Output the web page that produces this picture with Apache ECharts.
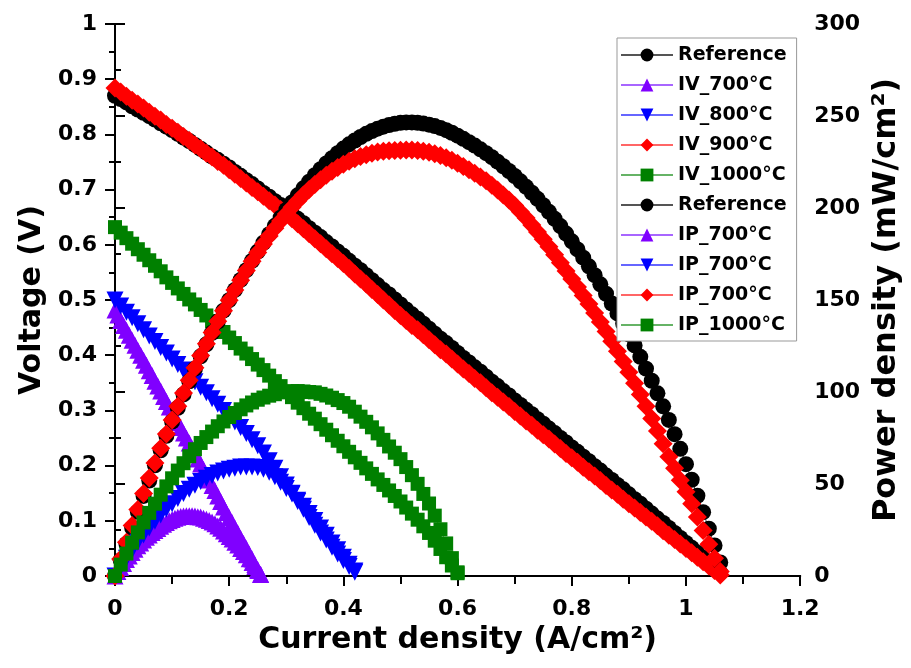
<!DOCTYPE html>
<html>
<head>
<meta charset="utf-8">
<script src="https://cdn.jsdelivr.net/npm/echarts@6/dist/echarts.min.js"></script>
<style>
html, body { margin: 0; padding: 0; background: #fff; }
#main { width: 911px; height: 668px; }
</style>
</head>
<body>
<div id="main"></div>
<script>
// current density (A/cm2)
var current = [
    0, 0.01, 0.02, 0.03, 0.04, 0.05, 0.06, 0.07, 0.08, 0.09,
    0.10, 0.11, 0.12, 0.13, 0.14, 0.15, 0.16, 0.17, 0.18, 0.19,
    0.20, 0.21, 0.22, 0.23, 0.24, 0.25, 0.26, 0.27, 0.28, 0.29,
    0.30, 0.31, 0.32, 0.33, 0.34, 0.35, 0.36, 0.37, 0.38, 0.39,
    0.40, 0.41, 0.42, 0.43, 0.44, 0.45, 0.46, 0.47, 0.48, 0.49,
    0.50, 0.51, 0.52, 0.53, 0.54, 0.55, 0.56, 0.57, 0.58, 0.59,
    0.60, 0.61, 0.62, 0.63, 0.64, 0.65, 0.66, 0.67, 0.68, 0.69,
    0.70, 0.71, 0.72, 0.73, 0.74, 0.75, 0.76, 0.77, 0.78, 0.79,
    0.80, 0.81, 0.82, 0.83, 0.84, 0.85, 0.86, 0.87, 0.88, 0.89,
    0.90, 0.91, 0.92, 0.93, 0.94, 0.95, 0.96, 0.97, 0.98, 0.99,
    1.00, 1.01, 1.02, 1.03, 1.04, 1.05, 1.06
];
// finer steps for the 700°C cell
var current700 = [
    0, 0.005, 0.010, 0.015, 0.020, 0.025, 0.030, 0.035, 0.040, 0.045,
    0.050, 0.055, 0.060, 0.065, 0.070, 0.075, 0.080, 0.085, 0.090, 0.095,
    0.100, 0.105, 0.110, 0.115, 0.120, 0.125, 0.130, 0.135, 0.140, 0.145,
    0.150, 0.155, 0.160, 0.165, 0.170, 0.175, 0.180, 0.185, 0.190, 0.195,
    0.200, 0.205, 0.210, 0.215, 0.220, 0.225, 0.230, 0.235, 0.240, 0.245,
    0.250, 0.255
];

// voltage (V)
var vRef = [
    0.870, 0.864, 0.858, 0.851, 0.845, 0.839, 0.833, 0.827, 0.820, 0.814,
    0.808, 0.801, 0.794, 0.788, 0.781, 0.774, 0.767, 0.760, 0.754, 0.747,
    0.740, 0.732, 0.725, 0.717, 0.710, 0.702, 0.694, 0.687, 0.679, 0.672,
    0.664, 0.656, 0.647, 0.639, 0.630, 0.622, 0.614, 0.605, 0.597, 0.588,
    0.580, 0.571, 0.562, 0.554, 0.545, 0.536, 0.527, 0.518, 0.510, 0.501,
    0.492, 0.483, 0.474, 0.466, 0.457, 0.448, 0.439, 0.430, 0.422, 0.413,
    0.404, 0.395, 0.387, 0.378, 0.370, 0.361, 0.352, 0.344, 0.335, 0.327,
    0.318, 0.310, 0.301, 0.293, 0.284, 0.276, 0.267, 0.259, 0.250, 0.242,
    0.233, 0.225, 0.216, 0.208, 0.199, 0.191, 0.182, 0.174, 0.165, 0.157,
    0.148, 0.139, 0.131, 0.122, 0.113, 0.104, 0.096, 0.087, 0.078, 0.069,
    0.060, 0.051, 0.042, 0.033, 0.024, 0.015, 0.006
];
var v700 = [
    0.482, 0.473, 0.463, 0.454, 0.445, 0.436, 0.427, 0.418, 0.409, 0.400,
    0.391, 0.382, 0.372, 0.363, 0.353, 0.344, 0.335, 0.325, 0.316, 0.306,
    0.297, 0.288, 0.278, 0.269, 0.259, 0.250, 0.241, 0.231, 0.222, 0.212,
    0.203, 0.193, 0.183, 0.174, 0.164, 0.155, 0.145, 0.135, 0.125, 0.115,
    0.106, 0.097, 0.087, 0.078, 0.068, 0.059, 0.050, 0.040, 0.031, 0.021,
    0.012, 0.003
];
var v800 = [
    0.500, 0.489, 0.478, 0.468, 0.457, 0.446, 0.435, 0.425, 0.414, 0.404,
    0.393, 0.383, 0.373, 0.362, 0.352, 0.342, 0.332, 0.321, 0.311, 0.300,
    0.290, 0.279, 0.269, 0.258, 0.247, 0.236, 0.223, 0.209, 0.195, 0.180,
    0.165, 0.150, 0.135, 0.121, 0.106, 0.092, 0.078, 0.065, 0.052, 0.040,
    0.028, 0.017, 0.007
];
var v900 = [
    0.884, 0.877, 0.869, 0.862, 0.855, 0.848, 0.840, 0.833, 0.826, 0.818,
    0.811, 0.804, 0.796, 0.789, 0.781, 0.774, 0.766, 0.759, 0.751, 0.744,
    0.736, 0.728, 0.720, 0.712, 0.704, 0.696, 0.688, 0.680, 0.672, 0.664,
    0.656, 0.647, 0.638, 0.629, 0.620, 0.611, 0.602, 0.593, 0.584, 0.575,
    0.566, 0.557, 0.547, 0.538, 0.529, 0.519, 0.510, 0.500, 0.491, 0.481,
    0.472, 0.463, 0.454, 0.446, 0.437, 0.428, 0.419, 0.410, 0.402, 0.393,
    0.384, 0.375, 0.367, 0.358, 0.350, 0.341, 0.332, 0.324, 0.315, 0.307,
    0.298, 0.290, 0.281, 0.273, 0.264, 0.256, 0.248, 0.239, 0.231, 0.222,
    0.214, 0.206, 0.197, 0.189, 0.181, 0.173, 0.164, 0.156, 0.148, 0.139,
    0.131, 0.123, 0.115, 0.107, 0.099, 0.091, 0.082, 0.074, 0.066, 0.058,
    0.050, 0.042, 0.034, 0.026, 0.018, 0.010, 0.002
];
var v1000 = [
    0.632, 0.622, 0.612, 0.602, 0.592, 0.582, 0.572, 0.562, 0.552, 0.541,
    0.531, 0.521, 0.511, 0.501, 0.492, 0.482, 0.472, 0.462, 0.452, 0.442,
    0.432, 0.422, 0.412, 0.403, 0.393, 0.383, 0.373, 0.363, 0.353, 0.344,
    0.334, 0.324, 0.314, 0.304, 0.294, 0.285, 0.275, 0.265, 0.255, 0.245,
    0.235, 0.225, 0.215, 0.205, 0.195, 0.185, 0.175, 0.165, 0.155, 0.145,
    0.135, 0.124, 0.113, 0.102, 0.090, 0.078, 0.064, 0.049, 0.034, 0.019,
    0.005
];

// power density (mW/cm2)
var pRef = [
    0, 8.6, 17.4, 26.2, 34.9, 43.5, 51.9, 60.2, 68.3, 76.2,
    83.9, 91.4, 98.7, 105.8, 112.7, 119.4, 125.9, 132.2, 138.3, 144.2,
    149.9, 155.5, 160.9, 166.2, 171.3, 176.3, 181.1, 185.8, 190.3, 194.7,
    198.9, 203.0, 206.9, 210.7, 214.3, 217.8, 221.1, 224.2, 227.1, 229.8,
    232.3, 234.6, 236.7, 238.6, 240.3, 241.8, 243.1, 244.2, 245.1, 245.8,
    246.3, 246.5, 246.5, 246.3, 245.9, 245.3, 244.5, 243.5, 242.3, 240.9,
    239.3, 237.6, 235.8, 233.9, 231.9, 229.8, 227.6, 225.2, 222.7, 220.1,
    217.4, 214.5, 211.5, 208.3, 205.0, 201.5, 197.9, 194.1, 190.2, 186.1,
    181.9, 177.5, 173.0, 168.3, 163.5, 158.5, 153.4, 148.1, 142.7, 137.1,
    131.3, 125.3, 119.1, 112.7, 106.1, 99.3, 92.2, 84.8, 77.1, 69.1,
    60.8, 52.3, 43.6, 34.7, 25.7, 16.6, 7.4
];
var p700 = [
    0, 2.4, 4.6, 6.8, 8.9, 10.9, 12.8, 14.6, 16.4, 18.0,
    19.6, 21.0, 22.3, 23.6, 24.7, 25.8, 27.1, 28.1, 29.1, 30.0,
    30.7, 31.4, 31.9, 32.3, 32.6, 32.8, 32.8, 32.7, 32.6, 32.2,
    32.0, 31.4, 30.8, 30.2, 29.3, 28.4, 27.2, 25.9, 24.5, 22.9,
    21.5, 20.1, 18.3, 16.8, 15.0, 13.3, 11.5, 9.4, 7.4, 5.1,
    3.0, 0.8
];
var p800 = [
    0, 4.9, 9.6, 14.0, 18.3, 22.3, 26.1, 29.8, 33.1, 36.4,
    39.3, 42.1, 44.8, 47.1, 49.3, 51.3, 53.1, 54.6, 56.0, 57.0,
    58.0, 58.6, 59.2, 59.3, 59.3, 59.0, 58.0, 56.4, 54.0, 51.0,
    47.5, 44.5, 41.2, 37.9, 34.0, 30.2, 26.1, 22.1, 18.0, 14.2,
    10.2, 6.4, 2.7
];
var p900 = [
    0, 9.3, 18.4, 27.4, 36.2, 44.8, 53.2, 61.4, 69.4, 77.2,
    84.8, 92.2, 99.4, 106.4, 113.2, 119.8, 126.2, 132.4, 138.4, 144.2,
    149.8, 155.4, 160.8, 166.0, 171.0, 175.8, 180.4, 184.8, 189.0, 193.0,
    196.8, 200.4, 203.8, 207.0, 210.0, 212.8, 215.4, 217.8, 220.0, 222.0,
    223.8, 225.4, 226.8, 228.0, 229.0, 229.8, 230.4, 230.8, 231.1, 231.3,
    231.4, 231.5, 231.5, 231.3, 230.9, 230.3, 229.5, 228.5, 227.3, 225.9,
    224.3, 222.6, 220.8, 218.9, 216.9, 214.8, 212.4, 209.8, 207.1, 204.3,
    201.4, 198.0, 194.5, 190.8, 187.0, 183.0, 178.9, 174.6, 170.2, 165.8,
    161.4, 157.0, 152.5, 147.8, 143.0, 138.0, 132.9, 127.6, 122.2, 116.6,
    110.8, 104.8, 98.6, 92.2, 85.6, 78.8, 71.9, 64.8, 58.6, 52.1,
    45.8, 39.3, 32.1, 24.7, 17.2, 9.6, 2.4
];
var p1000 = [
    0, 6.2, 12.2, 18.1, 23.7, 29.1, 34.3, 39.3, 44.2, 48.7,
    53.1, 57.3, 61.3, 65.1, 68.9, 72.3, 75.5, 78.5, 81.4, 84.0,
    86.4, 88.6, 90.6, 92.7, 94.3, 95.8, 97.0, 98.0, 98.8, 99.8,
    100.2, 100.4, 100.5, 100.3, 100.0, 99.8, 99.0, 98.1, 96.9, 95.6,
    94.0, 92.0, 89.3, 86.6, 83.8, 80.8, 77.5, 74.0, 70.4, 67.0,
    63.5, 59.2, 54.8, 50.1, 44.6, 39.4, 32.8, 25.4, 17.7, 9.7,
    2.0
];

// legend labels (the original repeats some names, \u200b keeps them apart)
var names = ['Reference', 'IV_700°C', 'IV_800°C', 'IV_900°C', 'IV_1000°C',
    'Reference\u200b', 'IP_700°C', 'IP_700°C\u200b', 'IP_700°C\u200b\u200b', 'IP_1000°C'];

var font = 'DejaVu Sans';

function pts(xs, ys) {
    return ys.map(function (y, i) { return [xs[i], y]; });
}

function curve(name, symbol, size, rotate, color, lineColor, yIndex, xs, ys) {
    return {
        name: name,
        type: 'line',
        xAxisIndex: 0,
        yAxisIndex: yIndex,
        data: pts(xs, ys),
        symbol: symbol,
        symbolSize: size,
        symbolRotate: rotate,
        showSymbol: true,
        itemStyle: {color: color},
        lineStyle: {color: lineColor, width: 1},
        emphasis: {disabled: true},
        animation: false
    };
}

var myChart = echarts.init(document.getElementById('main'));

myChart.setOption({
    animation: false,
    grid: {left: 115, right: 110, top: 24, bottom: 92},
    legend: {
        orient: 'vertical',
        left: 617,
        top: 38,
        itemWidth: 52,
        itemHeight: 16,
        itemGap: 8,
        padding: [6, 10, 5, 3],
        borderColor: '#999',
        borderWidth: 1,
        backgroundColor: '#fff',
        textStyle: {fontFamily: font, fontWeight: 'bold', fontSize: 19, color: '#000', lineHeight: 22},
        formatter: function (n) { return n.replace(/\u200b/g, ''); },
        data: names
    },
    xAxis: [
        {
            type: 'value', position: 'bottom',
            min: 0, max: 1.2, interval: 0.2,
            name: 'Current density (A/cm²)',
            nameLocation: 'middle', nameGap: 49,
            nameTextStyle: {fontFamily: font, fontWeight: 'bold', fontSize: 30, color: '#000'},
            axisLine: {lineStyle: {color: '#000', width: 2}},
            axisTick: {inside: false, length: 10, lineStyle: {width: 2}},
            minorTick: {show: true, splitNumber: 2, length: 6, lineStyle: {color: '#000', width: 2}},
            axisLabel: {fontFamily: font, fontWeight: 'bold', fontSize: 22, color: '#000', margin: 22},
            splitLine: {show: false}
        },
        {
            type: 'value', position: 'top',
            min: 0, max: 1.2, interval: 0.1,
            axisLine: {lineStyle: {color: '#000', width: 2}},
            axisTick: {inside: true, length: 8, lineStyle: {width: 2}},
            axisLabel: {show: false},
            splitLine: {show: false}
        }
    ],
    yAxis: [
        {
            type: 'value', position: 'left',
            min: 0, max: 1, interval: 0.1,
            name: 'Voltage (V)',
            nameLocation: 'middle', nameGap: 64,
            nameTextStyle: {fontFamily: font, fontWeight: 'bold', fontSize: 30, color: '#000'},
            axisLine: {show: true, lineStyle: {color: '#000', width: 2}},
            axisTick: {show: true, inside: false, length: 10, lineStyle: {width: 2}},
            minorTick: {show: true, splitNumber: 2, length: 6, lineStyle: {color: '#000', width: 2}},
            axisLabel: {fontFamily: font, fontWeight: 'bold', fontSize: 22, color: '#000', margin: 18},
            splitLine: {show: false}
        },
        {
            type: 'value', position: 'right',
            min: 0, max: 300, interval: 50,
            name: 'Power density (mW/cm²)',
            nameLocation: 'middle', nameGap: 42, nameRotate: 90,
            nameTextStyle: {fontFamily: font, fontWeight: 'bold', fontSize: 32, color: '#000'},
            axisLine: {show: true, lineStyle: {color: '#000', width: 2}},
            axisTick: {show: true, inside: false, length: 10, lineStyle: {width: 2}},
            minorTick: {show: true, splitNumber: 2, length: 6, lineStyle: {color: '#000', width: 2}},
            axisLabel: {fontFamily: font, fontWeight: 'bold', fontSize: 22, color: '#000', margin: 14},
            splitLine: {show: false}
        }
    ],
    series: [
        curve(names[0], 'circle', 16, 0, '#000000', '#555555', 0, current, vRef),
        curve(names[1], 'triangle', 17, 0, '#8000ff', '#a866ff', 0, current700, v700),
        curve(names[2], 'triangle', 17, 180, '#0000ff', '#6666ff', 0, current, v800),
        curve(names[3], 'diamond', 19, 0, '#ff0000', '#ff6666', 0, current, v900),
        curve(names[4], 'rect', 14, 0, '#008000', '#66b366', 0, current, v1000),
        curve(names[5], 'circle', 16, 0, '#000000', '#555555', 1, current, pRef),
        curve(names[6], 'triangle', 17, 0, '#8000ff', '#a866ff', 1, current700, p700),
        curve(names[7], 'triangle', 17, 180, '#0000ff', '#6666ff', 1, current, p800),
        curve(names[8], 'diamond', 19, 0, '#ff0000', '#ff6666', 1, current, p900),
        curve(names[9], 'rect', 14, 0, '#008000', '#66b366', 1, current, p1000)
    ]
});
</script>
</body>
</html>
